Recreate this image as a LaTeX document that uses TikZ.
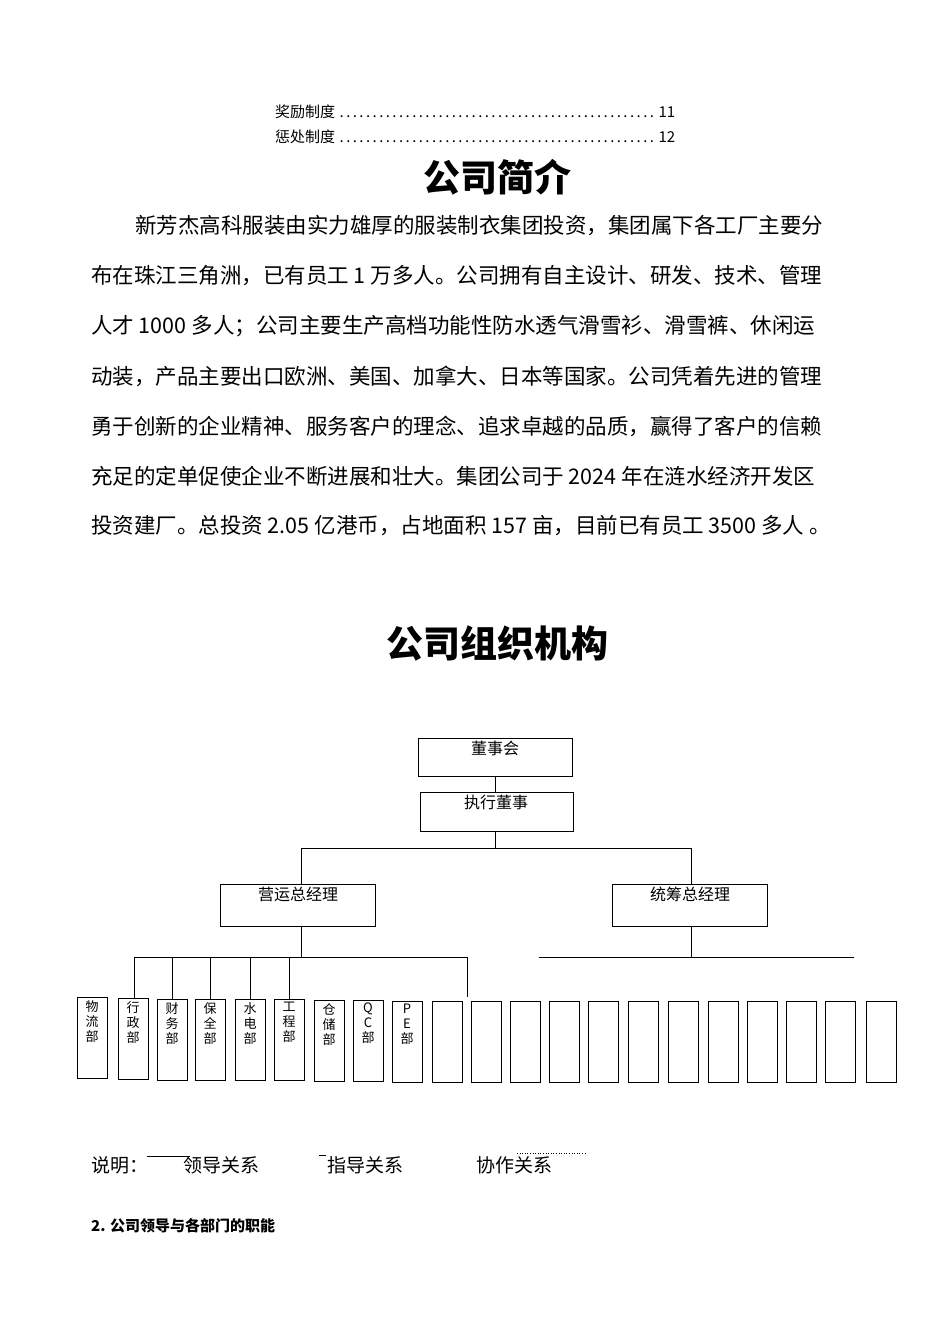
\documentclass[tikz,border=0pt]{standalone}
\usepackage{fontspec}
\setmainfont{Noto Sans CJK SC}
\begin{document}
\begin{tikzpicture}[x=1pt,y=-1pt,
  box/.style={draw,line width=1pt,inner sep=0pt},
  ln/.style={line width=1pt},
  body/.style={anchor=west,inner sep=0pt,font=\fontsize{21.5}{22}\selectfont},
  dept/.style={draw,line width=1pt,minimum width=30pt,minimum height=81pt,anchor=north west,inner sep=0pt},
  dtxt/.style={anchor=north,inner sep=0pt,align=center,font=\fontsize{13}{15}\selectfont},
  btxt/.style={anchor=north,inner sep=0pt,font=\fontsize{16}{16}\selectfont}]
\useasboundingbox (0,0) rectangle (950,1344);
% TOC
\node[anchor=west,inner sep=0pt,font=\fontsize{15}{16}\selectfont] (t1) at (275,112) {\makebox[400pt][l]{奖励制度\dotfill 11}};
\node[anchor=west,inner sep=0pt,font=\fontsize{15}{16}\selectfont] (t2) at (275,137) {\makebox[400pt][l]{惩处制度\dotfill 12}};
\node[font=\bfseries\fontsize{37}{40}\selectfont,inner sep=0pt] (h1) at (497,177) {公司简介};
\node[body] (b1) at (135,226) {新芳杰高科服装由实力雄厚的服装制衣集团投资，集团属下各工厂主要分};
\node[body] (b2) at (91,276) {布在珠江三角洲，已有员工 1 万多人。公司拥有自主设计、研发、技术、管理};
\node[body] (b3) at (91,326) {人才 1000 多人；公司主要生产高档功能性防水透气滑雪衫、滑雪裤、休闲运};
\node[body] (b4) at (91,376) {动装，产品主要出口欧洲、美国、加拿大、日本等国家。公司凭着先进的管理};
\node[body] (b5) at (91,426) {勇于创新的企业精神、服务客户的理念、追求卓越的品质，赢得了客户的信赖};
\node[body] (b6) at (91,476) {充足的定单促使企业不断进展和壮大。集团公司于 2024 年在涟水经济开发区};
\node[body] (b7) at (91,526) {投资建厂。总投资 2.05 亿港币，占地面积 157 亩，目前已有员工 3500 多人 。};
\node[font=\bfseries\fontsize{37}{40}\selectfont,inner sep=0pt] (h2) at (497,643) {公司组织机构};
% org chart
\node[box,minimum width=154pt,minimum height=38pt,anchor=north west] (dsh) at (418,738) {};
\node[btxt] at (495,741) {董事会};
\node[box,minimum width=153pt,minimum height=39pt,anchor=north west] (zx) at (420,792) {};
\node[btxt] at (496,795) {执行董事};
\node[box,minimum width=155pt,minimum height=42pt,anchor=north west] (yy) at (220,884) {};
\node[btxt] at (298,887) {营运总经理};
\node[box,minimum width=155pt,minimum height=42pt,anchor=north west] (tc) at (612,884) {};
\node[btxt] at (690,887) {统筹总经理};
\coordinate (c0) at (495,776);
\draw[ln] (c0) -- (c0|-zx.north);
\coordinate (c1) at (495,848);
\coordinate (cl) at (301,848);
\coordinate (cr) at (691,848);
\draw[ln] (c1|-zx.south) -- (c1);
\draw[ln] (cl|-yy.north) -- (cl) -- (cr) -- (cr|-tc.north);
\coordinate (s1) at (301,957);
\draw[ln] (s1|-yy.south) -- (s1);
\draw[ln] (134,957) -- (467,957);
\coordinate (r1) at (691,957);
\draw[ln] (r1|-tc.south) -- (r1);
\coordinate (ra) at (539,957); \coordinate (rb) at (854,957);
\draw[ln] (ra) -- (rb);
% departments
\foreach \x/\y/\n/\t in {77/997/d1/物\\流\\部,118/998/d2/行\\政\\部,157/999/d3/财\\务\\部,195/999/d4/保\\全\\部,235/999/d5/水\\电\\部,274/999/d6/工\\程\\部,314/1000/d7/仓\\储\\部,353/1000/d8/Q\\C\\部,392/1001/d9/P\\E\\部}{
  \node[dept] (\n) at (\x,\y) {};
  \node[dtxt] at (\x+15,\y+3) {\t};
}
\foreach \x/\n in {432/e1,471/e2,510/e3,549/e4,588/e5,628/e6,668/e7,708/e8,747/e9,786/e10,825/e11,866/e12}{
  \node[dept] (\n) at (\x,1001) {};
}
\foreach \n in {d3,d4,d5,d6}{ \draw[ln] (\n.north|-s1) -- (\n.north); }
\coordinate (dl) at (134,957);
\draw[ln] (dl) -- (dl|-d2.north);
\coordinate (dr) at (467,957);
\draw[ln] (dr) -- (467,997);
% legend
\node[anchor=west,inner sep=0pt,font=\fontsize{19}{20}\selectfont] (sm) at (91,1165) {说明：};
\coordinate (l1a) at (147,1156); \coordinate (l1b) at (190,1156);
\draw[line width=0.8pt] (l1a) -- (l1b);
\node[anchor=west,inner sep=0pt,font=\fontsize{19}{20}\selectfont] (ld) at (183,1165) {领导关系};
\coordinate (l2a) at (319,1155); \coordinate (l2b) at (326,1155);
\draw[line width=0.8pt] (l2a) -- (l2b);
\node[anchor=west,inner sep=0pt,font=\fontsize{19}{20}\selectfont] (zd) at (327,1165) {指导关系};
\node[anchor=west,inner sep=0pt,font=\fontsize{19}{20}\selectfont] (xz) at (476,1165) {协作关系};
\coordinate (l3a) at (517,1153); \coordinate (l3b) at (585,1153);
\draw[line width=0.6pt,dotted] (l3a) -- (l3b);
\node[anchor=west,inner sep=0pt,font=\bfseries\fontsize{15}{16}\selectfont] (h3) at (91,1226) {2. 公司领导与各部门的职能};
\end{tikzpicture}
\end{document}
